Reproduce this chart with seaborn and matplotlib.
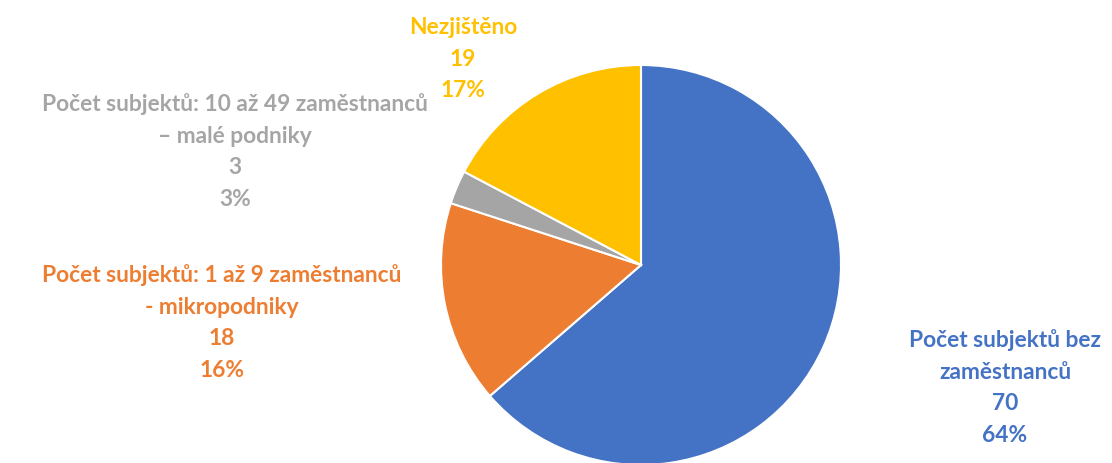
import matplotlib.pyplot as plt
import seaborn as sns

# data
categories = ["Počet subjektů bez\nzaměstnanců",
              "Počet subjektů: 1 až 9 zaměstnanců\n- mikropodniky",
              "Počet subjektů: 10 až 49 zaměstnanců\n– malé podniky",
              "Nezjištěno"]
values = [70, 18, 3, 19]
colors = ["#4472C4", "#ED7D31", "#A5A5A5", "#FFC000"]

# label anchor (top centre of each label block), in pixels from top-left
label_pos = [(1005, 329), (222, 264), (235, 93), (463, 17)]

sns.set_theme(style="white")
plt.rcParams['font.family'] = ['Lato', 'DejaVu Sans']

W, H = 1112, 464
fig = plt.figure(figsize=(W / 100, H / 100), dpi=100)
ax = fig.add_axes([0, 0, 1, 1])

ax.pie(values, colors=colors, startangle=90, counterclock=False,
       center=(641, H - 266), radius=200,
       wedgeprops=dict(edgecolor='white', linewidth=1.5))

# pie() resets the limits, so set them afterwards
ax.set_xlim(0, W)
ax.set_ylim(0, H)
ax.set_aspect('equal')
ax.axis('off')

total = sum(values)
for cat, val, col, (x, y) in zip(categories, values, colors, label_pos):
    pct = round(100 * val / total)
    txt = f"{cat}\n{val}\n{pct}%"
    ax.text(x, H - y, txt, ha='center', va='top', color=col,
            fontsize=16.4, fontweight='bold', linespacing=1.63)

plt.savefig("out.png", dpi=100)
